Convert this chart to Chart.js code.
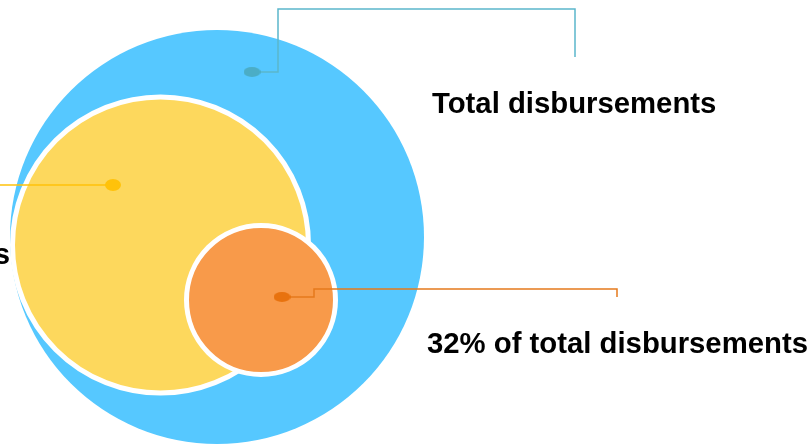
<!doctype html>
<html lang="en">
  <head>
    <meta charset="utf-8">
    <title>Disbursements bubble</title>
    <script src="https://cdn.jsdelivr.net/npm/chart.js"></script>
    <style>
      body { margin: 0; background: #fff; }
      #chartContainer { width: 811px; height: 448px; }
    </style>
  </head>
  <body>
    <div id="chartContainer">
      <canvas id="myChart"></canvas>
    </div>

<script type="text/javascript">
  // circles: [x, y, r] in a 811 x 448 drawing space
  var circleNames  = ['Total disbursements', 'Subset', '32% of total disbursements'];
  var circleX      = [217, 160.5, 261];
  var circleY      = [237, 245, 300];
  var circleR      = [207, 148, 74.5];

  // leader lines (dot first, then the elbow points)
  var totalLineX   = [252, 278, 278, 575, 575];
  var totalLineY   = [72, 72, 9, 9, 57];
  var subsetLineX  = [113, 0];
  var subsetLineY  = [185, 185];
  var shareLineX   = [282, 314, 314, 617, 617];
  var shareLineY   = [297, 297, 289, 289, 297];

  var labelTexts   = ['Total disbursements', 'Government disbursements', '32% of total disbursements'];

  var colBlue   = '#56C8FF';
  var colYellow = '#FDD85D';
  var colOrange = '#F89A4A';

  function pts(xs, ys) {
    return xs.map(function (x, i) { return { x: x, y: ys[i] }; });
  }

  // small ellipse used as the leader dot
  function dot(color, w, h) {
    var c = document.createElement('canvas');
    c.width = w; c.height = h;
    var g = c.getContext('2d');
    g.fillStyle = color;
    g.beginPath();
    g.ellipse(w / 2, h / 2, w / 2, h / 2, 0, 0, Math.PI * 2);
    g.fill();
    return c;
  }

  function lineSet(xs, ys, color, order) {
    return {
      type: 'line',
      data: pts(xs, ys),
      borderColor: color,
      borderWidth: 1.5,
      pointRadius: 0,
      tension: 0,
      fill: false,
      clip: false,
      order: order
    };
  }

  function dotSet(xs, ys, style) {
    return {
      type: 'scatter',
      data: [{ x: xs[0], y: ys[0] }],
      pointStyle: style,
      clip: false,
      order: 0
    };
  }

  function bubbleSet(i, color, border, order) {
    return {
      type: 'bubble',
      label: circleNames[i],
      data: [{ x: circleX[i], y: circleY[i], r: circleR[i] }],
      backgroundColor: color,
      borderColor: '#ffffff',
      borderWidth: border,
      hoverRadius: 0,
      clip: false,
      order: order
    };
  }

  // text labels next to the leader lines
  const labelPlugin = {
    id: 'labels',
    afterDatasetsDraw(chart) {
      const ctx = chart.ctx;
      const xs = chart.scales.x, ys = chart.scales.y;
      const spots = [[432, 113, 'left'], [10, 264, 'right'], [427, 353, 'left']];
      ctx.save();
      ctx.fillStyle = '#000';
      ctx.font = 'bold 29.3px "Liberation Sans", Arial, sans-serif';
      ctx.textBaseline = 'alphabetic';
      labelTexts.forEach(function (t, i) {
        ctx.textAlign = spots[i][2];
        ctx.fillText(t, xs.getPixelForValue(spots[i][0]), ys.getPixelForValue(spots[i][1]));
      });
      ctx.restore();
    }
  };

  var myChart = new Chart(document.getElementById('myChart'), {
    type: 'bubble',
    data: {
      datasets: [
        dotSet(totalLineX, totalLineY, dot('#4BADC6', 17, 10)),
        dotSet(subsetLineX, subsetLineY, dot('#FFC20A', 16, 12)),
        dotSet(shareLineX, shareLineY, dot('#E8720E', 17, 10)),
        lineSet(totalLineX, totalLineY, '#5BB6CC', 1.5),
        lineSet(subsetLineX, subsetLineY, '#FFC20A', 1.5),
        lineSet(shareLineX, shareLineY, '#E57A1C', 1.5),
        bubbleSet(2, colOrange, 5, 2),
        bubbleSet(1, colYellow, 5, 3),
        bubbleSet(0, colBlue, 0, 4)
      ]
    },
    options: {
      responsive: true,
      maintainAspectRatio: false,
      animation: false,
      events: [],
      layout: { padding: 0, autoPadding: false },
      plugins: {
        legend: { display: false },
        tooltip: { enabled: false },
        title: { display: false }
      },
      scales: {
        x: { type: 'linear', min: 0, max: 811, display: false },
        y: { type: 'linear', min: 0, max: 448, reverse: true, display: false }
      }
    },
    plugins: [labelPlugin]
  });
</script>
  </body>
</html>
